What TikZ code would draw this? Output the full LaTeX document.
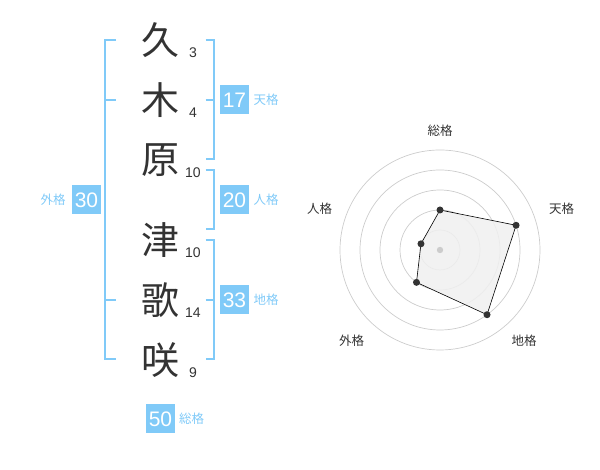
\documentclass[tikz,border=0pt]{standalone}
\usepackage{fontspec}
\setmainfont{Liberation Sans}
\newfontfamily\jpfont{Noto Sans CJK JP}
\definecolor{kakublue}{RGB}{128,202,248}
\definecolor{inkgray}{RGB}{51,51,51}
\definecolor{ringgray}{RGB}{204,204,204}
\definecolor{areagray}{RGB}{240,240,240}

\begin{document}
\begin{tikzpicture}[x=1pt, y=1pt,
  kanji/.style={inner sep=0, text=inkgray, font=\jpfont\fontsize{38}{38}\selectfont},
  stroke/.style={inner sep=0, text=inkgray, font=\fontsize{14}{14}\selectfont},
  kakubox/.style={fill=kakublue, text=white, minimum width=29pt, minimum height=29pt, inner sep=0, font=\fontsize{21}{21}\selectfont},
  kakulabel/.style={inner sep=0, text=kakublue, font=\jpfont\fontsize{12.5}{12.5}\selectfont},
  bracket/.style={draw=kakublue, line width=2pt},
  axislabel/.style={inner sep=0, text=inkgray, font=\jpfont\fontsize{12.5}{12.5}\selectfont},
  ring/.style={draw=ringgray, line width=0.7pt},
  dot/.style={circle, fill=inkgray, inner sep=0, minimum size=7pt}]

        \useasboundingbox (0,0) rectangle (600,470);

        \def\numx{193}

        \node [kanji] (k1) at (160,430) {久};
        \node [kanji] (k2) at (160,370) {木};
        \node [kanji] (k3) at (160,310) {原};
        \node [kanji] (k4) at (160,230) {津};
        \node [kanji] (k5) at (160,170) {歌};
        \node [kanji] (k6) at (160,110) {咲};

        \node [stroke] (n1) at (\numx,417.5) {3};
        \node [stroke] (n2) at (\numx,357.5) {4};
        \node [stroke] (n3) at (\numx,297.5) {10};
        \node [stroke] (n4) at (\numx,217.5) {10};
        \node [stroke] (n5) at (\numx,157.5) {14};
        \node [stroke] (n6) at (\numx,97.5) {9};

        \draw[bracket] (116,430) -- (105,430) -- (105,111) -- (116,111);
        \draw[bracket] (105,370) -- (116,370);
        \draw[bracket] (105,170) -- (116,170);
        \draw[bracket] (205.5,430) -- (214,430) -- (214,311) -- (205.5,311);
        \draw[bracket] (205.5,370) -- (214,370);
        \draw[bracket] (205.5,300) -- (214,300) -- (214,241) -- (205.5,241);
        \draw[bracket] (205.5,230) -- (214,230) -- (214,111) -- (205.5,111);
        \draw[bracket] (205.5,170) -- (214,170);

        \node [kakubox] (gaibox) at (86.5,270) {30};
        \node [kakulabel] (gailabel) at (53,270) {外格};
        \node [kakubox] (tenbox) at (234.5,370) {17};
        \node [kakulabel] (tenlabel) at (266,370) {天格};
        \node [kakubox] (jinbox) at (234.5,270) {20};
        \node [kakulabel] (jinlabel) at (266,270) {人格};
        \node [kakubox] (chibox) at (234.5,170) {33};
        \node [kakulabel] (chilabel) at (266,170) {地格};
        \node [kakubox] (soubox) at (160.5,51) {50};
        \node [kakulabel] (soulabel) at (191.5,51) {総格};

        \begin{scope}[shift={(440,220)}]
        \draw[ring] (0,0) circle (20);
        \draw[ring] (0,0) circle (40);
        \draw[ring] (0,0) circle (60);
        \draw[ring] (0,0) circle (80);
        \draw[ring] (0,0) circle (100);

        \coordinate (sou) at (90:40);
        \coordinate (ten) at (18:80);
        \coordinate (chi) at (-54:80);
        \coordinate (gai) at (-126:40);
        \coordinate (jin) at (162:20);
        \draw[fill=areagray, fill opacity=0.85, line width=0.6pt] (sou) -- (ten) -- (chi) -- (gai) -- (jin) -- cycle;
        \fill[ringgray] (0,0) circle (3.2);
        \node [dot] (soudot) at (sou) {};
        \node [dot] (tendot) at (ten) {};
        \node [dot] (chidot) at (chi) {};
        \node [dot] (gaidot) at (gai) {};
        \node [dot] (jindot) at (jin) {};

        \node [axislabel] (souaxis) at (0,119.5) {総格};
        \node [axislabel] (tenaxis) at (121.5,41.5) {天格};
        \node [axislabel] (chiaxis) at (84,-90.5) {地格};
        \node [axislabel] (gaiaxis) at (-88.5,-90.5) {外格};
        \node [axislabel] (jinaxis) at (-120.5,41.5) {人格};
        \end{scope}

      \end{tikzpicture}
\end{document}
